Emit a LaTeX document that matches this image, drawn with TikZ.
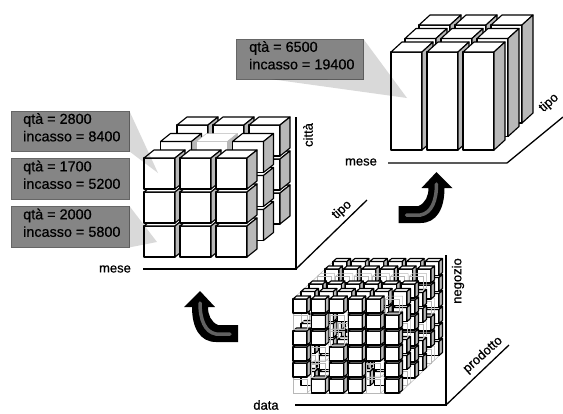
\documentclass[tikz,border=0pt]{standalone}
\usepackage{fontspec}
\setmainfont{Liberation Sans}
\newfontfamily\boxfont[FakeBold=0.6]{Liberation Sans}
\newfontfamily\axisfont[FakeBold=0.7]{Liberation Sans}
\newcommand{\blockat}[7][black]{% colour; x,y,w,h,dx,dy
  \draw[draw=#1,fill=white,line join=round] (#2,#3) rectangle ++(#4,#5);
  \draw[draw=#1,fill=white,line join=round] (#2,#3) -- ++(#6,-#7) -- ++(#4,0) -- ++(-#6,#7) -- cycle;
  \draw[draw=#1,fill=sidegray,line join=round] (#2+#4,#3) -- ++(#6,-#7) -- ++(0,#5) -- ++(-#6,#7) -- cycle;
}
\newcommand{\ghostat}[6]{% x,y,w,h,dx,dy : faint outline only
  \draw[draw=ghost,line width=.5pt] (#1,#2) rectangle ++(#3,#4);
  \draw[draw=ghost,line width=.5pt] (#1,#2) -- ++(#5,-#6) -- ++(#3,0) -- ++(0,#4) -- ++(-#5,#6);
}
\definecolor{sidegray}{gray}{0.72}
\definecolor{boxgray}{gray}{0.52}
\definecolor{ghost}{gray}{0.72}
\tikzset{
  x=1pt,y=-1pt,
  axisline/.style={line width=1.3pt,line join=miter},
  axislabel/.style={font=\fontsize{13}{15}\selectfont\axisfont,inner sep=0pt},
  infobox/.style={fill=boxgray,draw=black!60,line width=.4pt,minimum width=#1,align=left,inner sep=0pt,anchor=north west,
     font=\fontsize{14.4}{17.5}\selectfont\boxfont,text height=10pt},
  wedge/.style={fill=black,fill opacity=.15,draw=none},
  turnarrow/.style={fill=black,draw=none},
  turnstreak/.style={draw=black!62,line width=3.5pt,line cap=round},
  blockline/.style={line width=1.15pt},
}
\begin{document}
\begin{tikzpicture}
\useasboundingbox (0,0) rectangle (563,413);
% --- top block of bars
\begin{scope}[blockline]
\foreach \k in {2,1,0}{
  \foreach \i in {0,1,2}{
    \pgfmathsetmacro\px{391+36*\i+14*\k}
    \pgfmathsetmacro\py{52-13.5*\k}
    \blockat{\px}{\py}{31}{98}{11}{10}
  }
}
\end{scope}
\coordinate (tm) at (388,163);
\coordinate (tc) at (507,163);
\coordinate (tt) at (563,117);
\draw[axisline] (tm) -- (tc) -- (tt);
\node[axislabel] (tmese) at (361,162) {mese};
\node[axislabel,rotate=42] (ttipo) at (549,103) {tipo};
\node[infobox=127pt,minimum height=40pt] (b4) at (236,39) {\hspace{12pt}\parbox{113pt}{qtà = 6500\\incasso = 19400}};
\fill[wedge] (b4.north east) -- (407,98) -- (270,79) -- (b4.south east) -- cycle;

% --- left cube
\begin{scope}[blockline]
\foreach \k in {2,1,0}{
  \foreach \j in {2,1,0}{
    \foreach \i in {0,1,2}{
      \pgfmathsetmacro\px{144+36*\i+16.5*\k}
      \pgfmathsetmacro\py{158+34*\j-16.5*\k}
      \pgfmathtruncatemacro\isghost{(\k==1 && \j==0 && \i==1) ? 1 : 0}
      \ifnum\isghost=1
        \begin{scope}[line width=.5pt]\blockat[ghost]{\px}{\py}{31}{31}{10}{8}\end{scope}
      \else
        \blockat{\px}{\py}{31}{31}{10}{8}
      \fi
    }
  }
}
\end{scope}
\coordinate (lm) at (143,269);
\coordinate (lc) at (296,269);
\coordinate (lu) at (296,117);
\coordinate (lt) at (367,200);
\draw[axisline] (lm) -- (lc) -- (lu);
\draw[axisline] (lc) -- (lt);
\node[axislabel] (lmese) at (115,269) {mese};
\node[axislabel,rotate=90] (lcitta) at (308,135) {città};
\node[axislabel,rotate=42] (ltipo) at (342,210) {tipo};
\node[infobox=118pt,minimum height=40pt] (b1) at (11,111) {\hspace{11pt}\parbox{105pt}{qtà = 2800\\incasso = 8400}};
\node[infobox=118pt,minimum height=41pt] (b2) at (11,158) {\hspace{11pt}\parbox{105pt}{qtà = 1700\\incasso = 5200}};
\node[infobox=118pt,minimum height=41pt] (b3) at (11,206) {\hspace{11pt}\parbox{105pt}{qtà = 2000\\incasso = 5800}};
\fill[wedge] (b1.north east) -- (158,173) -- (b1.south east) -- cycle;
\fill[wedge] (b3.north east) -- (157,242) -- (b3.south east) -- cycle;

% --- data cube
\def\frontmask{{1,1,1,1,1,0, 0,1,0,1,1,1, 1,1,0,1,1,1, 1,0,1,1,1,1, 1,0,1,1,0,1, 0,1,1,1,0,1}}
\draw[ghost,line width=.5pt] (293,299) rectangle (400,393);
\draw[ghost,line width=.5pt] (293,299) -- (336,259) -- (442,259) -- (400,299);
\draw[ghost,line width=.5pt] (442,259) -- (442,353) -- (400,393);
\begin{scope}[line width=1.1pt]
\foreach \k in {5,4,3,2,1,0}{
  \foreach \j in {5,4,3,2,1,0}{
    \foreach \i in {0,1,2,3,4,5}{
      \pgfmathsetmacro\px{293+18.4*\i+8*\k}
      \pgfmathsetmacro\py{299+16*\j-7.5*\k}
      \ifnum\k=0
        \pgfmathtruncatemacro\present{\frontmask[\j*6+\i]}
      \else
        \pgfmathtruncatemacro\present{mod(3*\i+5*\j+7*\k+\i*\j*\k,3)==0 ? 0 : 1}
      \fi
      \ifnum\present=1
        \blockat{\px}{\py}{14}{14}{3.5}{3}
      \else
        \ghostat{\px}{\py}{14}{14}{3.5}{3}
      \fi
    }
  }
}
\end{scope}
\coordinate (dm) at (295,405);
\coordinate (dc) at (446,405);
\coordinate (du) at (446,255);
\coordinate (dt) at (509,345);
\draw[axisline] (dm) -- (dc) -- (du);
\draw[axisline] (dc) -- (dt);
\node[axislabel] (ddata) at (266,405) {data};
\node[axislabel,rotate=90] (dneg) at (458,281) {negozio};
\node[axislabel,rotate=42] (dprod) at (483,355) {prodotto};

% --- turn arrows
\begin{scope}
\fill[turnarrow] (238,325) -- (218,325) .. controls (211,322) and (208,315) .. (208,307) -- (215,307) -- (200,291) -- (184,307) -- (192,307) .. controls (192,328) and (200,342) .. (216,342) -- (238,342) -- cycle;
\draw[turnstreak] (230,334) -- (216,334) .. controls (205,332) and (200,320) .. (200,303);
\end{scope}
\begin{scope}[xshift=636.5pt,yshift=119pt,xscale=-1]
\fill[turnarrow] (238,325) -- (218,325) .. controls (211,322) and (208,315) .. (208,307) -- (215,307) -- (200,291) -- (184,307) -- (192,307) .. controls (192,328) and (200,342) .. (216,342) -- (238,342) -- cycle;
\draw[turnstreak] (230,334) -- (216,334) .. controls (205,332) and (200,320) .. (200,303);
\end{scope}
\end{tikzpicture}
\end{document}
